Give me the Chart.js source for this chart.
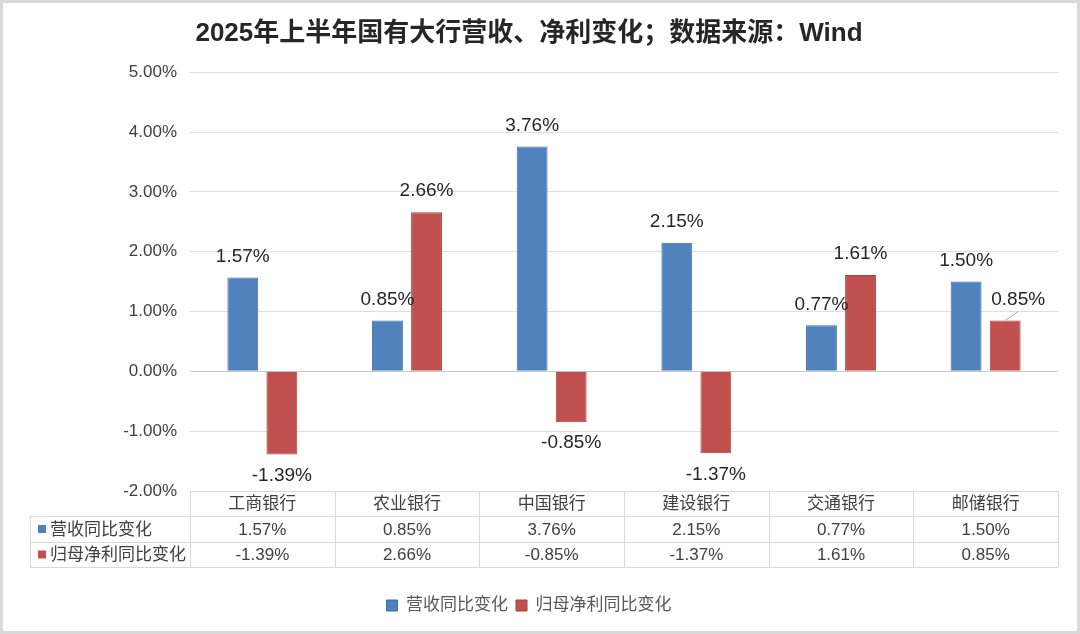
<!DOCTYPE html>
<html lang="zh-CN">
  <head>
    <meta charset="UTF-8" />
    <title>2025年上半年国有大行营收、净利变化</title>
    <script src="https://cdn.jsdelivr.net/npm/chart.js"></script>
    <style>
      html,
      body {
        margin: 0;
        padding: 0;
        background: #ffffff;
      }
      #chart {
        display: block;
      }
    </style>
  </head>
  <body>
    <canvas id="chart" width="1080" height="634"></canvas>

    <script>
      const banks = ['工商银行', '农业银行', '中国银行', '建设银行', '交通银行', '邮储银行'];
      const revenueName = '营收同比变化';
      const profitName = '归母净利同比变化';
      const revenueChange = [1.57, 0.85, 3.76, 2.15, 0.77, 1.5];
      const profitChange = [-1.39, 2.66, -0.85, -1.37, 1.61, 0.85];
      const yTicks = [-2, -1, 0, 1, 2, 3, 4, 5];

      const BLUE = '#4f81bd';
      const RED = '#c0504d';
      const FONT = '"Liberation Sans", "Noto Sans CJK SC", sans-serif';

      const pct = (v) => v.toFixed(2) + '%';

      // white background + thin frame round the picture
      const framePlugin = {
        id: 'frame',
        beforeDraw(chart) {
          const ctx = chart.ctx;
          ctx.save();
          ctx.fillStyle = '#ffffff';
          ctx.fillRect(0, 0, chart.width, chart.height);
          ctx.strokeStyle = '#dadada';
          ctx.lineWidth = 3;
          ctx.strokeRect(1.5, 1.5, chart.width - 3, chart.height - 3);
          ctx.restore();
        },
      };

      // value labels above / below each bar
      const valueLabels = {
        id: 'valueLabels',
        afterDatasetsDraw(chart) {
          const ctx = chart.ctx;
          ctx.save();
          ctx.font = '19px ' + FONT;
          ctx.fillStyle = '#262626';
          ctx.textAlign = 'center';
          ctx.textBaseline = 'middle';
          chart.data.datasets.forEach((ds, di) => {
            chart.getDatasetMeta(di).data.forEach((bar, i) => {
              const v = ds.data[i];
              let x = bar.x;
              let y = v >= 0 ? bar.y - 21 : bar.y + 21;
              // last red label is pushed aside, with a leader line
              if (di === 1 && i === ds.data.length - 1) {
                x += 13;
                ctx.strokeStyle = '#a6a6a6';
                ctx.lineWidth = 1;
                ctx.beginPath();
                ctx.moveTo(bar.x, bar.y);
                ctx.lineTo(bar.x + 13, bar.y - 9);
                ctx.stroke();
              }
              ctx.fillText(pct(v), x, y);
            });
          });
          ctx.restore();
        },
      };

      // Excel-like data table under the plot
      const dataTable = {
        id: 'dataTable',
        afterDraw(chart) {
          const ctx = chart.ctx;
          const area = chart.chartArea;
          const colW = (area.right - area.left) / banks.length;
          const top = area.bottom;
          const rowH = [25, 26, 25];
          const y1 = top + rowH[0];
          const y2 = y1 + rowH[1];
          const y3 = y2 + rowH[2];
          const labelLeft = 30;

          ctx.save();
          ctx.strokeStyle = '#d9d9d9';
          ctx.lineWidth = 1;
          ctx.beginPath();
          // horizontal lines
          ctx.moveTo(area.left, top + 0.5);
          ctx.lineTo(area.right, top + 0.5);
          [y1, y2, y3].forEach((y) => {
            ctx.moveTo(labelLeft, y + 0.5);
            ctx.lineTo(area.right, y + 0.5);
          });
          // vertical lines
          ctx.moveTo(labelLeft + 0.5, y1);
          ctx.lineTo(labelLeft + 0.5, y3);
          for (let i = 0; i <= banks.length; i++) {
            const x = Math.round(area.left + i * colW) + 0.5;
            ctx.moveTo(x, top);
            ctx.lineTo(x, y3);
          }
          ctx.stroke();

          ctx.font = '17px ' + FONT;
          ctx.fillStyle = '#404040';
          ctx.textBaseline = 'middle';
          ctx.textAlign = 'center';
          banks.forEach((b, i) => {
            const cx = area.left + (i + 0.5) * colW;
            ctx.fillText(b, cx, (top + y1) / 2 + 1);
            ctx.fillText(pct(revenueChange[i]), cx, (y1 + y2) / 2 + 1);
            ctx.fillText(pct(profitChange[i]), cx, (y2 + y3) / 2 + 1);
          });

          ctx.textAlign = 'left';
          [
            [revenueName, BLUE, (y1 + y2) / 2],
            [profitName, RED, (y2 + y3) / 2],
          ].forEach(([name, color, cy]) => {
            ctx.fillStyle = color;
            ctx.fillRect(labelLeft + 8, cy - 4, 8, 8);
            ctx.fillStyle = '#404040';
            ctx.fillText(name, labelLeft + 20, cy + 1);
          });
          ctx.restore();
        },
      };

      const ctx = document.getElementById('chart').getContext('2d');
      new Chart(ctx, {
        type: 'bar',
        data: {
          labels: banks,
          datasets: [
            {
              label: revenueName,
              data: revenueChange,
              backgroundColor: BLUE,
              borderColor: '#3f6fa8',
              borderWidth: 1,
              categoryPercentage: 0.54,
              barPercentage: 0.79,
            },
            {
              label: profitName,
              data: profitChange,
              backgroundColor: RED,
              borderColor: '#a9403d',
              borderWidth: 1,
              categoryPercentage: 0.54,
              barPercentage: 0.79,
            },
          ],
        },
        options: {
          responsive: false,
          animation: false,
          layout: {
            padding: { left: 0, right: 22, top: 0, bottom: 10 },
          },
          plugins: {
            title: {
              display: true,
              text: '2025年上半年国有大行营收、净利变化；数据来源：Wind',
              color: '#262626',
              font: { family: FONT, size: 26, weight: 'bold' },
              padding: { top: 18, bottom: 23 },
            },
            legend: {
              position: 'bottom',
              labels: {
                boxWidth: 11,
                boxHeight: 11,
                color: '#595959',
                font: { family: FONT, size: 17 },
                padding: 8,
              },
            },
            tooltip: { enabled: false },
          },
          scales: {
            x: {
              ticks: { display: false },
              grid: { display: false },
              border: { display: false },
              afterFit(scale) {
                scale.height = 98;
              },
            },
            y: {
              min: -2,
              max: 5,
              afterBuildTicks(scale) {
                scale.ticks = yTicks.map((v) => ({ value: v }));
              },
              ticks: {
                padding: 13,
                color: '#404040',
                font: { family: FONT, size: 17 },
                callback: (v) => pct(v),
              },
              grid: {
                drawTicks: false,
                color: (c) => (c.tick && c.tick.value === 0 ? '#c8c8c8' : '#dedede'),
              },
              border: { display: false },
              afterFit(scale) {
                scale.width = 190;
              },
            },
          },
        },
        plugins: [framePlugin, valueLabels, dataTable],
      });
    </script>
  </body>
</html>
